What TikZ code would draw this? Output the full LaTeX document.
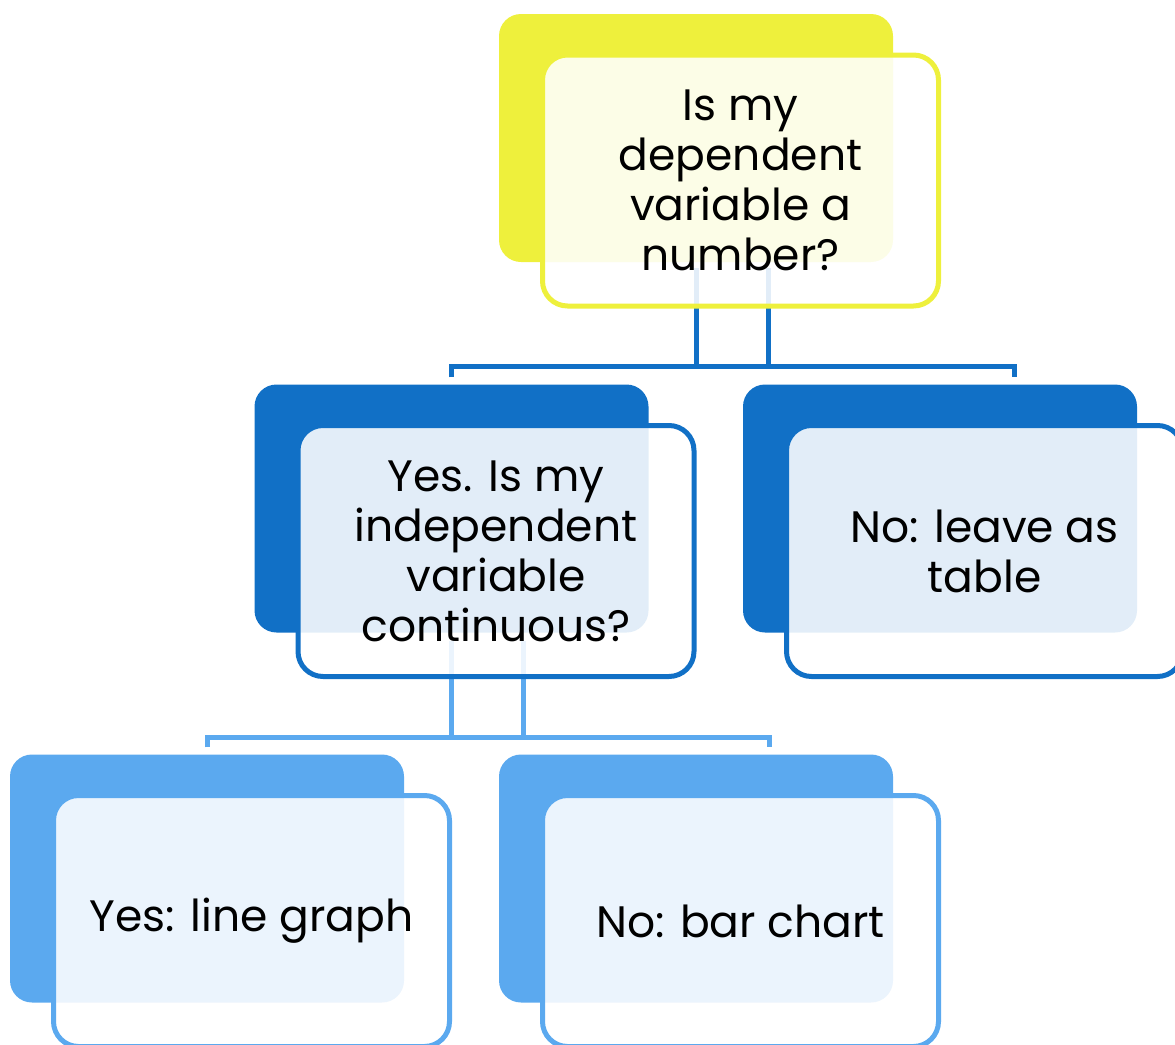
\documentclass[tikz,border=0pt]{standalone}
\usepackage{fontspec}
\setmainfont{Poppins}
\definecolor{yel}{HTML}{EEF03C}
\definecolor{dkblue}{HTML}{1170C6}
\definecolor{ltblue}{HTML}{5BA9EF}
\begin{document}
\begin{tikzpicture}[x=1pt,y=-1pt,
	back box/.style={rectangle,rounded corners=22pt,minimum width=394pt,minimum height=248pt,inner sep=0pt},
	front box/.style={rectangle,draw,line width=5pt,rounded corners=25pt,fill=white,fill opacity=0.88,text opacity=1,
		minimum width=396pt,minimum height=251pt,align=center,font=\fontsize{44}{50}\selectfont},
	link/.style={line width=5pt}
]

	\def \dx {44.5};
	\def \dy {42.5};

	\useasboundingbox (0,0) rectangle (1175,1044);
	\clip (0,0) rectangle (1175,1044);

	% back boxes
	\node[back box,fill=yel] (q1back) at (696,138) {};
	\node[back box,fill=dkblue] (yesback) at (451.5,508.5) {};
	\node[back box,fill=dkblue] (noback) at (940,508.5) {};
	\node[back box,fill=ltblue] (lineback) at (207,878.5) {};
	\node[back box,fill=ltblue] (barback) at (696,878.5) {};

	% links between levels
	\draw[link,dkblue] ([yshift=-6pt]q1back.south) -- ++(0,99);
	\draw[link,dkblue] ([xshift=72pt,yshift=-6pt]q1back.south) -- ++(0,99);
	\draw[link,dkblue] ([yshift=7pt]yesback.north) -- ++(0,-11) -| ([xshift=74pt,yshift=7pt]noback.north);
	\draw[link,ltblue] ([yshift=-8pt]yesback.south) -- ++(0,98);
	\draw[link,ltblue] ([xshift=72pt,yshift=-8pt]yesback.south) -- ++(0,98);
	\draw[link,ltblue] ([yshift=7pt]lineback.north) -- ++(0,-10) -| ([xshift=73pt,yshift=7pt]barback.north);

	% front boxes
	\node[front box,draw=yel] (q1) at ([shift={(\dx,\dy)}]q1back.center) {Is my\\dependent\\variable a\\number?};
	\node[front box,draw=dkblue] (yes) at ([shift={(\dx,\dy)}]yesback.center) {Yes. Is my\\independent\\variable\\continuous?};
	\node[front box,draw=dkblue] (no) at ([shift={(\dx,\dy)}]noback.center) {No: leave as\\table};
	\node[front box,draw=ltblue] (line) at ([shift={(\dx,\dy)}]lineback.center) {Yes: line graph};
	\node[front box,draw=ltblue] (bar) at ([shift={(\dx,\dy)}]barback.center) {No: bar chart};
\end{tikzpicture}
\end{document}
